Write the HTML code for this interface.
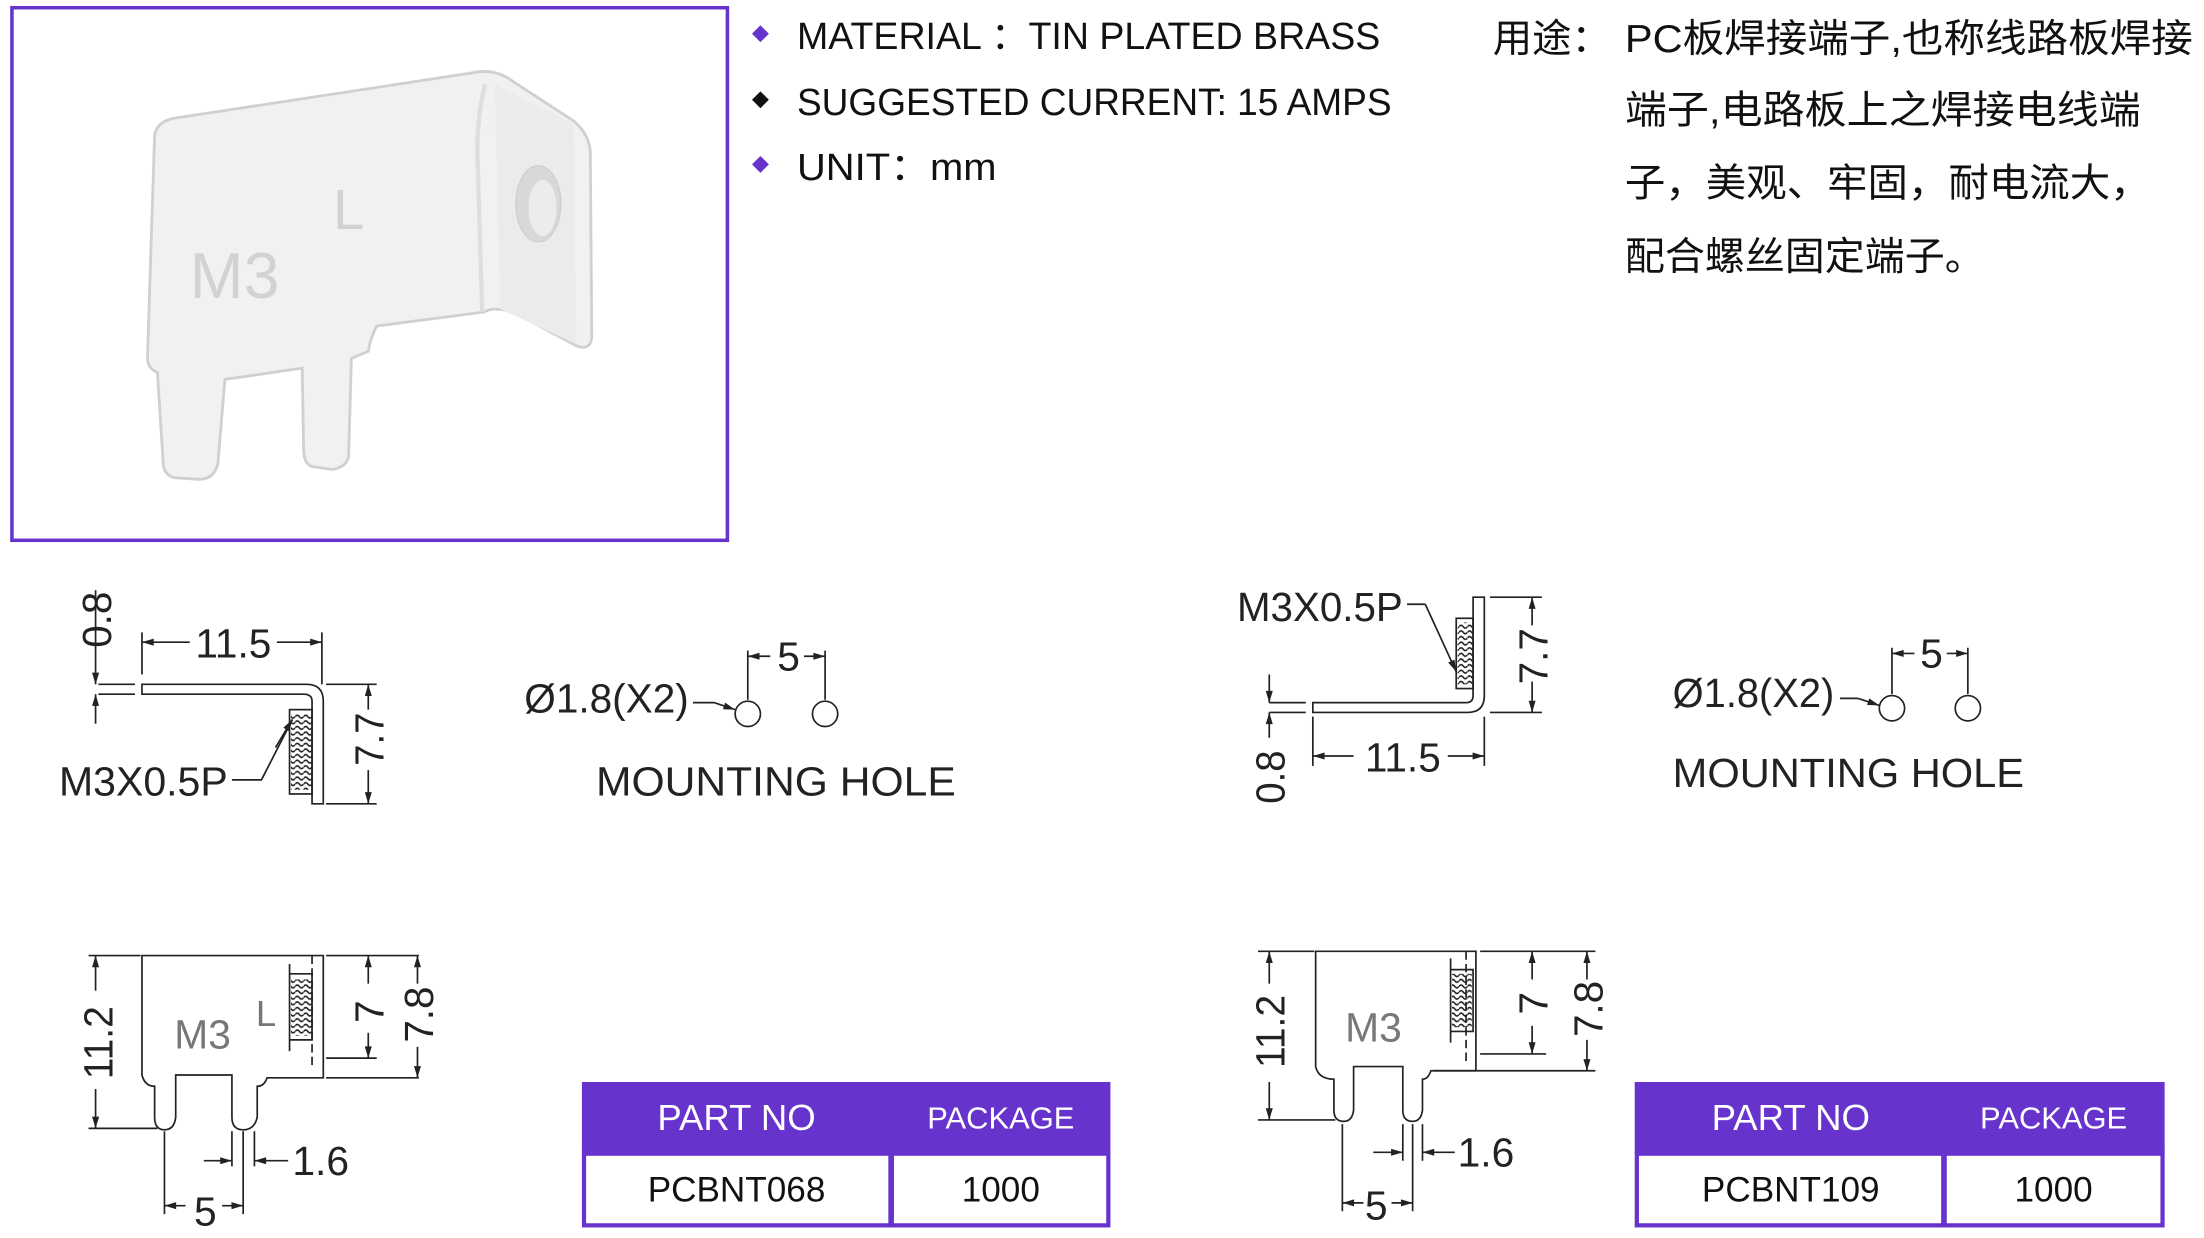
<!DOCTYPE html>
<html><head><meta charset="utf-8"><style>
html,body{margin:0;padding:0;background:#fff;}
svg{display:block;}
text{font-family:"Liberation Sans","Noto Sans CJK SC",sans-serif;}
</style></head><body>
<svg width="2204" height="1238" viewBox="0 0 1568 881" preserveAspectRatio="none" xmlns="http://www.w3.org/2000/svg">
<defs>
<marker id="a" viewBox="0 0 10 6" refX="10" refY="3" markerWidth="9" markerHeight="5" orient="auto-start-reverse" markerUnits="userSpaceOnUse"><path d="M0,0L10,3L0,6z" fill="#222"/></marker>
<pattern id="th" width="6" height="4" patternUnits="userSpaceOnUse"><path d="M0,2 Q1.5,0 3,2 T6,2" fill="none" stroke="#222" stroke-width="1.1"/></pattern>
</defs>
<rect width="1568" height="881" fill="#fff"/>
<!-- photo -->
<rect x="8.5" y="5.5" width="509" height="379" fill="#fff" stroke="#6633cc" stroke-width="2.5"/>
<g>
<path d="M110,96 Q112,86 125,84 L335,52 Q352,48 365,58 L408,86 Q420,96 420,110 L421,240 Q420,250 410,246 L365,222 Q350,218 345,222 L268,232 Q263,242 262,250 L250,255 L248,325 Q246,333 236,334 L222,332 Q216,330 216,320 L215,262 L160,270 L155,330 Q152,342 140,341 L124,340 Q116,338 116,328 L112,265 Q104,262 105,252 Z" fill="#f1f1f1" stroke="#d0d0d0" stroke-width="2"/>
<path d="M345,60 Q338,90 340,120 L343,222" fill="none" stroke="#dedede" stroke-width="3"/>
<path d="M352,60 L408,88 L410,245 L356,220 Z" fill="#ebebeb"/>
<ellipse cx="383" cy="145" rx="16" ry="27" fill="#d8d8d8" stroke="#cfcfcf"/>
<ellipse cx="386" cy="148" rx="10" ry="20" fill="#ececec"/>
<text x="135" y="212" font-size="46" fill="#d2d2d2" font-family="Liberation Sans">M3</text>
<text x="237" y="163" font-size="40" fill="#d2d2d2" font-family="Liberation Sans">L</text>
</g>
<!-- bullets -->
<g font-size="27" fill="#111">
<path d="M541,18l6,6l-6,6l-6,-6z" fill="#6633cc"/>
<path d="M541,65l6,6l-6,6l-6,-6z" fill="#111"/>
<path d="M541,111l6,6l-6,6l-6,-6z" fill="#6633cc"/>
<text x="567" y="35" textLength="415" lengthAdjust="spacingAndGlyphs">MATERIAL ：TIN PLATED BRASS</text>
<text x="567" y="82" textLength="423" lengthAdjust="spacingAndGlyphs">SUGGESTED CURRENT: 15 AMPS</text>
<text x="567" y="128" textLength="142" lengthAdjust="spacingAndGlyphs">UNIT：mm</text>
</g>
<g font-size="28" fill="#111">
<text x="1062" y="37">用途：</text>
<text x="1156" y="37" textLength="404" lengthAdjust="spacingAndGlyphs">PC板焊接端子,也称线路板焊接</text>
<text x="1156" y="88" textLength="367" lengthAdjust="spacingAndGlyphs">端子,电路板上之焊接电线端</text>
<text x="1156" y="140" textLength="374" lengthAdjust="spacingAndGlyphs">子，美观、牢固，耐电流大，</text>
<text x="1156" y="192" textLength="256" lengthAdjust="spacingAndGlyphs">配合螺丝固定端子。</text>
</g>
<!-- drawings -->
<g stroke="#222" stroke-width="1.2" fill="none">
<path d="M101,487 H218 Q230,487 230,499 V572 H222 V499 Q222,494 216,494 H101 Z"/>
<path d="M96,487 H70 M96,494 H70"/>
<rect x="206" y="505" width="16" height="60"/>
<rect x="207" y="508" width="15" height="54" fill="url(#th)" stroke="none"/>
<path d="M68,420 V487" marker-end="url(#a)"/><path d="M68,515 V494" marker-end="url(#a)"/>
<path d="M101,450 V480 M229,450 V487"/>
<path d="M135,457 H101" marker-end="url(#a)"/><path d="M197,457 H229" marker-end="url(#a)"/>
<path d="M232,487 H268 M232,572 H268"/>
<path d="M262,505 V487" marker-end="url(#a)"/><path d="M262,548 V572" marker-end="url(#a)"/>
<path d="M165,555 H186 L208,512" /><path d="M196,532 L208,512" marker-end="url(#a)"/>
<circle cx="532" cy="508" r="9"/><circle cx="587" cy="508" r="9"/>
<path d="M532,463 V498 M587,463 V498"/>
<path d="M548,467 H532" marker-end="url(#a)"/><path d="M572,467 H587" marker-end="url(#a)"/>
<path d="M493,500 H508" /><path d="M508,500 L523,505" marker-end="url(#a)"/>
<path d="M101,680 H230 V767 H190 Q188,773 183,773 V795 Q181,804 173,804 Q165,804 165,795 V765 H125 V795 Q124,804 117,804 Q110,804 110,795 V773 Q103,773 101,765 Z"/>
<path d="M222,680 V760" stroke-dasharray="6,3"/>
<path d="M206,693 H222 V740 H206 Z M206,693 V686 M206,740 V748"/>
<rect x="207" y="697" width="15" height="40" fill="url(#th)" stroke="none"/>
<path d="M63,680 H100 M63,803 H112"/>
<path d="M68,705 V680" marker-end="url(#a)"/><path d="M68,775 V803" marker-end="url(#a)"/>
<path d="M232,680 H298 M232,753 H268 M232,767 H298"/>
<path d="M262,700 V680" marker-end="url(#a)"/><path d="M262,735 V753" marker-end="url(#a)"/>
<path d="M297,700 V680" marker-end="url(#a)"/><path d="M297,745 V767" marker-end="url(#a)"/>
<path d="M117,805 V864 M173,805 V864 M165,805 V830 M181,805 V830"/>
<path d="M145,826 H165" marker-end="url(#a)"/><path d="M205,826 H181" marker-end="url(#a)"/>
<path d="M132,858 H117" marker-end="url(#a)"/><path d="M158,858 H173" marker-end="url(#a)"/>
<path d="M934,500 H1043 Q1048,500 1048,495 V425 H1056 V495 Q1056,507 1044,507 H934 Z"/>
<path d="M929,500 H903 M929,507 H903"/>
<rect x="1036" y="440" width="12" height="50"/>
<rect x="1037" y="443" width="11" height="44" fill="url(#th)" stroke="none"/>
<path d="M903,480 V500" marker-end="url(#a)"/><path d="M903,525 V507" marker-end="url(#a)"/>
<path d="M934,510 V545 M1056,510 V545"/>
<path d="M963,538 H934" marker-end="url(#a)"/><path d="M1030,538 H1056" marker-end="url(#a)"/>
<path d="M1060,425 H1097 M1060,507 H1097"/>
<path d="M1090,445 V425" marker-end="url(#a)"/><path d="M1090,485 V507" marker-end="url(#a)"/>
<path d="M1001,430 H1014"/><path d="M1014,430 L1036,478" marker-end="url(#a)"/>
<circle cx="1346" cy="504" r="9"/><circle cx="1400" cy="504" r="9"/>
<path d="M1346,461 V494 M1400,461 V494"/>
<path d="M1362,465 H1346" marker-end="url(#a)"/><path d="M1385,465 H1400" marker-end="url(#a)"/>
<path d="M1309,497 H1322"/><path d="M1322,497 L1337,502" marker-end="url(#a)"/>
<path d="M936,677 H1050 V762 H1018 Q1016,768 1012,768 V790 Q1011,798 1005,798 Q998,798 998,790 V759 H963 V790 Q962,798 956,798 Q949,798 949,790 V768 Q938,768 936,759 Z"/>
<path d="M1043,677 V757" stroke-dasharray="6,3"/>
<path d="M1032,690 H1048 V734 H1032 Z M1032,690 V682 M1032,734 V742"/>
<rect x="1033" y="693" width="14" height="38" fill="url(#th)" stroke="none"/>
<path d="M895,677 H935 M895,797 H950"/>
<path d="M903,700 V677" marker-end="url(#a)"/><path d="M903,770 V797" marker-end="url(#a)"/>
<path d="M1053,677 H1135 M1053,750 H1100 M1020,762 H1135"/>
<path d="M1090,697 V677" marker-end="url(#a)"/><path d="M1090,730 V750" marker-end="url(#a)"/>
<path d="M1129,697 V677" marker-end="url(#a)"/><path d="M1129,740 V762" marker-end="url(#a)"/>
<path d="M955,800 V862 M1005,800 V862 M998,800 V826 M1012,800 V826"/>
<path d="M977,820 H998" marker-end="url(#a)"/><path d="M1035,820 H1012" marker-end="url(#a)"/>
<path d="M970,856 H955" marker-end="url(#a)"/><path d="M990,856 H1005" marker-end="url(#a)"/>
</g>
<g fill="#222" font-size="29">
<text x="42" y="566" textLength="120" lengthAdjust="spacingAndGlyphs">M3X0.5P</text>
<text x="139" y="468" textLength="54" lengthAdjust="spacingAndGlyphs">11.5</text>
<text transform="translate(79,461) rotate(-90)" textLength="40" lengthAdjust="spacingAndGlyphs">0.8</text>
<text transform="translate(273,545) rotate(-90)" textLength="38" lengthAdjust="spacingAndGlyphs">7.7</text>
<text x="373" y="507" textLength="117" lengthAdjust="spacingAndGlyphs">Ø1.8(X2)</text>
<text x="553" y="477">5</text>
<text x="424" y="566" textLength="256" lengthAdjust="spacingAndGlyphs">MOUNTING  HOLE</text>
<text transform="translate(80,768) rotate(-90)" textLength="52" lengthAdjust="spacingAndGlyphs">11.2</text>
<text transform="translate(273,728) rotate(-90)">7</text>
<text transform="translate(308,742) rotate(-90)" textLength="40" lengthAdjust="spacingAndGlyphs">7.8</text>
<text x="208" y="836">1.6</text>
<text x="138" y="872">5</text>
<text x="124" y="746" fill="#777">M3</text>
<text x="182" y="730" fill="#777" font-size="26">L</text>
<text x="880" y="442" textLength="118" lengthAdjust="spacingAndGlyphs">M3X0.5P</text>
<text x="971" y="549" textLength="54" lengthAdjust="spacingAndGlyphs">11.5</text>
<text transform="translate(914,572) rotate(-90)" textLength="38" lengthAdjust="spacingAndGlyphs">0.8</text>
<text transform="translate(1101,487) rotate(-90)" textLength="40" lengthAdjust="spacingAndGlyphs">7.7</text>
<text x="1190" y="503" textLength="115" lengthAdjust="spacingAndGlyphs">Ø1.8(X2)</text>
<text x="1366" y="475">5</text>
<text x="1190" y="560" textLength="250" lengthAdjust="spacingAndGlyphs">MOUNTING  HOLE</text>
<text transform="translate(914,760) rotate(-90)" textLength="52" lengthAdjust="spacingAndGlyphs">11.2</text>
<text transform="translate(1101,722) rotate(-90)">7</text>
<text transform="translate(1140,738) rotate(-90)" textLength="40" lengthAdjust="spacingAndGlyphs">7.8</text>
<text x="1037" y="830">1.6</text>
<text x="971" y="868">5</text>
<text x="957" y="741" fill="#777">M3</text>
</g>
<g>
<rect x="414" y="770" width="376" height="51" fill="#6633cc"/>
<rect x="415.5" y="821" width="373" height="51" fill="#fff" stroke="#6633cc" stroke-width="3"/>
<rect x="632" y="821" width="4" height="52" fill="#6633cc"/>
<text x="524" y="804" font-size="26" fill="#fff" text-anchor="middle">PART NO</text>
<text x="712" y="803" font-size="22" fill="#fff" text-anchor="middle">PACKAGE</text>
<text x="524" y="855" font-size="25" fill="#111" text-anchor="middle">PCBNT068</text>
<text x="712" y="855" font-size="25" fill="#111" text-anchor="middle">1000</text>
<rect x="1163" y="770" width="377" height="51" fill="#6633cc"/>
<rect x="1164.5" y="821" width="374" height="51" fill="#fff" stroke="#6633cc" stroke-width="3"/>
<rect x="1381" y="821" width="4" height="52" fill="#6633cc"/>
<text x="1274" y="804" font-size="26" fill="#fff" text-anchor="middle">PART NO</text>
<text x="1461" y="803" font-size="22" fill="#fff" text-anchor="middle">PACKAGE</text>
<text x="1274" y="855" font-size="25" fill="#111" text-anchor="middle">PCBNT109</text>
<text x="1461" y="855" font-size="25" fill="#111" text-anchor="middle">1000</text>
</g>
</svg>
</body></html>
